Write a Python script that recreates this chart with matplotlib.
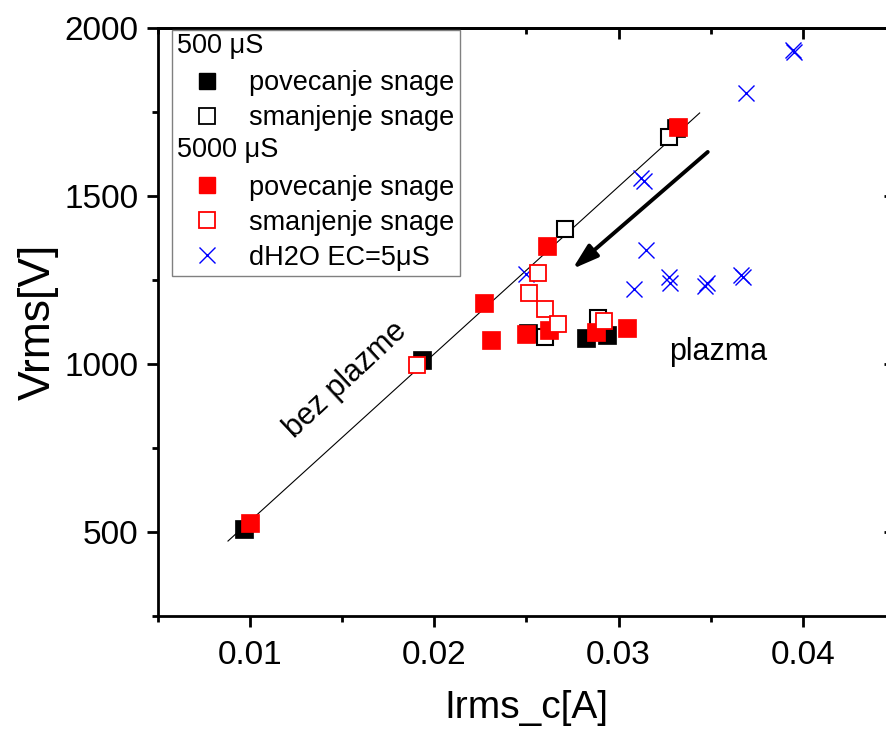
import matplotlib
matplotlib.use("Agg")
import matplotlib.pyplot as plt
from matplotlib.lines import Line2D
from matplotlib.ticker import MultipleLocator

plt.rcParams['font.family'] = ['Liberation Sans', 'DejaVu Sans']

#### data ####
# 500 uS
blk_up_x = [0.00967, 0.01935, 0.0251, 0.02821, 0.02935, 0.0331]
blk_up_y = [509, 1012, 1092, 1077, 1086, 1703]
blk_dn_x = [0.02603, 0.02886, 0.02707, 0.03272]
blk_dn_y = [1080, 1137, 1402, 1676]
# 5000 uS
red_up_x = [0.0100, 0.02272, 0.0231, 0.02495, 0.0262, 0.02875, 0.03043, 0.02614, 0.03321]
red_up_y = [527, 1182, 1071, 1089, 1101, 1095, 1107, 1351, 1705]
red_dn_x = [0.01908, 0.02565, 0.02516, 0.02598, 0.02671, 0.0292]
red_dn_y = [997, 1271, 1211, 1164, 1118, 1128]
# dH2O EC=5uS
h2o_x = [0.02495, 0.0312, 0.03136, 0.03147, 0.03082, 0.03272, 0.03277,
         0.03467, 0.03478, 0.03663, 0.03674, 0.0369, 0.03951, 0.03945]
h2o_y = [1268, 1553, 1544, 1339, 1223, 1259, 1241,
         1232, 1241, 1265, 1259, 1807, 1929, 1933]
# "bez plazme" line
fit_x = [0.0088, 0.0344]
fit_y = [473, 1747]
# arrow (tail -> head)
arrow_tail = (0.03484, 1631)
arrow_head = (0.0275, 1283)

fig = plt.figure(figsize=(8.86, 7.34), dpi=100)
ax = fig.add_axes([0.1783, 0.1608, 0.8318, 0.8011])

ax.plot(fit_x, fit_y, color='k', lw=0.8, zorder=1)

ax.plot(blk_up_x, blk_up_y, ls='none', marker='s', ms=12.5, mfc='k', mec='k', mew=0.5, zorder=2)
ax.plot(blk_dn_x, blk_dn_y, ls='none', marker='s', ms=12, mfc='white', mec='k', mew=1.5, zorder=3)
ax.plot(red_up_x, red_up_y, ls='none', marker='s', ms=12.5, mfc='red', mec='red', mew=0.5, zorder=4)
ax.plot(h2o_x, h2o_y, ls='none', marker='x', ms=12, mec='#0000ff', mew=1.0, zorder=5)
ax.plot(red_dn_x, red_dn_y, ls='none', marker='s', ms=12, mfc='white', mec='red', mew=1.3, zorder=6)

ax.annotate('', xy=arrow_head, xytext=arrow_tail,
            arrowprops=dict(arrowstyle='-|>,head_length=0.7,head_width=0.22',
                            lw=2.8, color='k', mutation_scale=22, shrinkA=0, shrinkB=0))

ax.text(0.0354, 1036, 'plazma', fontsize=22, ha='center', va='center')
ax.text(0.0152, 952, 'bez plazme', fontsize=22, ha='center', va='center', rotation=43)

ax.set_xlim(0.005, 0.045)
ax.set_ylim(250, 2000)
ax.xaxis.set_major_locator(MultipleLocator(0.01))
ax.xaxis.set_minor_locator(MultipleLocator(0.005))
ax.yaxis.set_major_locator(MultipleLocator(500))
ax.yaxis.set_minor_locator(MultipleLocator(250))
ax.set_xticks([0.01, 0.02, 0.03, 0.04])
ax.set_xticklabels(['0.01', '0.02', '0.03', '0.04'])
ax.set_yticks([500, 1000, 1500, 2000])
ax.tick_params(which='both', direction='out', width=2, labelsize=24)
ax.tick_params(which='major', length=8)
ax.tick_params(which='minor', length=4.5)
ax.tick_params(axis='x', pad=9)
ax.tick_params(axis='y', pad=6)
for s in ax.spines.values():
    s.set_linewidth(2)

# mirrored ticks pointing inward on top and right
top = ax.secondary_xaxis('top')
top.xaxis.set_major_locator(MultipleLocator(0.01))
top.xaxis.set_minor_locator(MultipleLocator(0.005))
top.tick_params(which='both', direction='in', width=2, labeltop=False)
top.tick_params(which='major', length=8)
top.tick_params(which='minor', length=4.5)
top.spines['top'].set_linewidth(2)
right = ax.secondary_yaxis('right')
right.yaxis.set_major_locator(MultipleLocator(500))
right.yaxis.set_minor_locator(MultipleLocator(250))
right.tick_params(which='both', direction='in', width=2, labelright=False)
right.tick_params(which='major', length=8)
right.tick_params(which='minor', length=4.5)

ax.set_xlabel('Irms_c[A]', fontsize=28, labelpad=14)
ax.set_ylabel('Vrms[V]', fontsize=32, labelpad=4)


# header rows of the legend: text drawn from the left edge of the handle box
class Header:
    def __init__(self, text):
        self.text = text


class HeaderHandler:
    def legend_artist(self, legend, orig_handle, fontsize, handlebox):
        t = matplotlib.text.Text(-handlebox.xdescent, handlebox.height / 2 - handlebox.ydescent,
                                 orig_handle.text, fontsize=fontsize, ha='left', va='center')
        handlebox.add_artist(t)
        return t


handles = [
    Header('500 \u03bcS'),
    Line2D([], [], ls='none', marker='s', ms=11, mfc='k', mec='k'),
    Line2D([], [], ls='none', marker='s', ms=11, mfc='white', mec='k', mew=1.3),
    Header('5000 \u03bcS'),
    Line2D([], [], ls='none', marker='s', ms=11, mfc='red', mec='red'),
    Line2D([], [], ls='none', marker='s', ms=11, mfc='white', mec='red', mew=1.3),
    Line2D([], [], ls='none', marker='x', ms=11, mec='#0000ff', mew=1.0),
]
labels = ['', 'povecanje snage', 'smanjenje snage', '',
          'povecanje snage', 'smanjenje snage', 'dH2O EC=5\u03bcS']
leg = ax.legend(handles, labels, handler_map={Header: HeaderHandler()},
                loc='upper left', bbox_to_anchor=(0.019, 0.997), borderaxespad=0,
                fontsize=19.5, handlelength=2.2, handletextpad=0.45, borderpad=0.2,
                labelspacing=0.33, numpoints=1, fancybox=False, framealpha=1,
                edgecolor='#808080')
leg.get_frame().set_linewidth(1.0)
leg.set_zorder(10)

fig.savefig('out.png', dpi=100)
